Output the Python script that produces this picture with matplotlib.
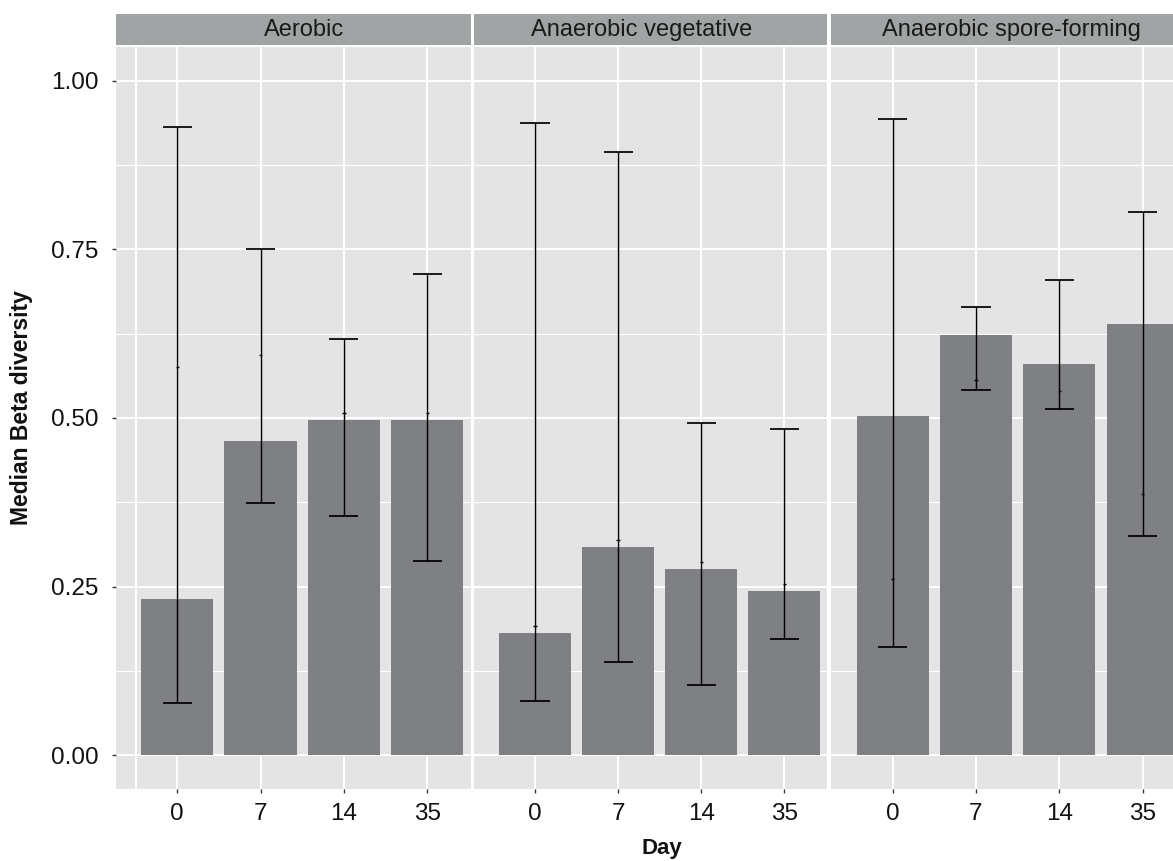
import matplotlib
matplotlib.use("Agg")
import matplotlib.pyplot as plt
import numpy as np

plt.rcParams['font.family'] = ['Liberation Sans', 'DejaVu Sans']

# ---------------- data ----------------
days = ['0', '7', '14', '35']
groups = ['Aerobic', 'Anaerobic vegetative', 'Anaerobic spore-forming']

aerobic_median = [0.232, 0.466, 0.497, 0.497]
aerobic_lower = [0.077, 0.374, 0.355, 0.288]
aerobic_upper = [0.931, 0.751, 0.617, 0.713]
aerobic_mid = [0.575, 0.594, 0.507, 0.507]

veg_median = [0.181, 0.309, 0.276, 0.2435]
veg_lower = [0.081, 0.139, 0.104, 0.173]
veg_upper = [0.937, 0.895, 0.493, 0.484]
veg_mid = [0.192, 0.319, 0.286, 0.254]

spore_median = [0.503, 0.6225, 0.580, 0.640]
spore_lower = [0.160, 0.541, 0.514, 0.325]
spore_upper = [0.943, 0.665, 0.705, 0.805]
spore_mid = [0.262, 0.557, 0.540, 0.388]

y_ticks = [0.0, 0.25, 0.5, 0.75, 1.0]
y_ticklabels = ['0.00', '0.25', '0.50', '0.75', '1.00']

medians = [aerobic_median, veg_median, spore_median]
lowers = [aerobic_lower, veg_lower, spore_lower]
uppers = [aerobic_upper, veg_upper, spore_upper]
mids = [aerobic_mid, veg_mid, spore_mid]

# ---------------- layout ----------------
W, H = 1173, 861
fig = plt.figure(figsize=(W / 100, H / 100), dpi=100)

def rect(l, r, t, b):
    return [l / W, 1 - b / H, (r - l) / W, (b - t) / H]

panels_lr = [(115.5, 470.5), (473.5, 827.5), (831.0, 1186.0)]
panel_t, panel_b = 47, 789
strip_t, strip_b = 14, 45
strip_text_x = [0.532, 0.476, 0.507]

panel_bg = '#E4E4E4'
strip_bg = '#A1A4A4'
bar_color = '#7F8083'

x = np.arange(len(days))
for i, (l, r) in enumerate(panels_lr):
    ax = fig.add_axes(rect(l, r, panel_t, panel_b))
    ax.set_facecolor(panel_bg)
    for s in ax.spines.values():
        s.set_visible(False)
    ax.set_xlim(-0.74, 3.52)
    ax.set_ylim(-0.05, 1.05)
    ax.set_yticks(y_ticks)
    ax.set_yticks([0.125, 0.375, 0.625, 0.875], minor=True)
    ax.set_xticks(x)
    ax.set_xticklabels(days)
    ax.grid(True, which='major', color='white', linewidth=1.4, zorder=0)
    ax.grid(True, which='minor', axis='y', color='white', linewidth=0.8, zorder=0)
    ax.set_axisbelow(True)
    if i == 0:
        ax.axvline(-0.5, color='white', linewidth=1.4, zorder=0)
        ax.set_yticklabels(y_ticklabels)
        ax.tick_params(axis='y', which='major', length=3, width=1.0, color='#333333',
                       pad=9.5, labelsize=17.5, labelcolor='#111111')
    else:
        ax.tick_params(axis='y', which='major', length=0, labelleft=False)
    ax.tick_params(axis='y', which='minor', length=0)
    ax.tick_params(axis='x', length=3, width=1.0, color='#333333', pad=7,
                   labelsize=17.5, labelcolor='#111111')

    ax.bar(x, medians[i], width=0.865, color=bar_color, zorder=2)
    ax.errorbar(x, medians[i],
                yerr=[np.array(medians[i]) - np.array(lowers[i]),
                      np.array(uppers[i]) - np.array(medians[i])],
                fmt='none', ecolor='black', elinewidth=1.05, capsize=0, zorder=3)
    ax.hlines(lowers[i], x - 0.175, x + 0.175, color='black', linewidth=1.25, zorder=3)
    ax.hlines(uppers[i], x - 0.175, x + 0.175, color='black', linewidth=1.25, zorder=3)
    ax.hlines(mids[i], x - 0.02, x + 0.02, color='black', linewidth=1.0, zorder=3)

    sax = fig.add_axes(rect(l, r, strip_t, strip_b))
    sax.set_facecolor(strip_bg)
    for s in sax.spines.values():
        s.set_visible(False)
    sax.set_xticks([])
    sax.set_yticks([])
    sax.text(strip_text_x[i], 0.47, groups[i], ha='center', va='center',
             fontsize=17, color='#1a1a1a', transform=sax.transAxes)

fig.text(22 / W, 1 - 408 / H, 'Median Beta diversity', rotation=90,
         ha='center', va='center', fontsize=16.5, fontweight='bold', color='#111111')
fig.text(662 / W, 1 - 854 / H, 'Day', ha='center', va='baseline',
         fontsize=16, fontweight='bold', color='#111111')

fig.savefig('out.png', dpi=100, facecolor='white')
